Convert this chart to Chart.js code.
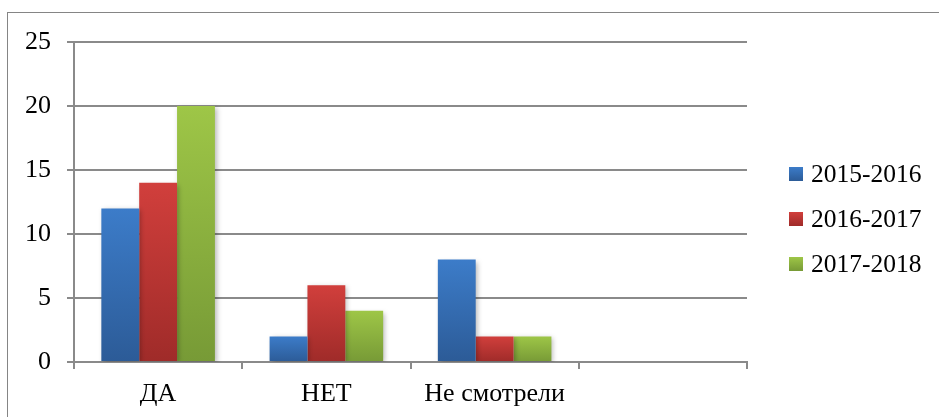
<!DOCTYPE html>
<html>
<head>
<meta charset="utf-8">
<script src="https://cdn.jsdelivr.net/npm/chart.js@4/dist/chart.umd.min.js"></script>
<style>
  html, body { margin: 0; padding: 0; background: #fff; }
  #caja { width: 939px; height: 417px; }
</style>
</head>
<body>
<div id="caja"><canvas id="grafico" width="939" height="417"></canvas></div>
<script>
// categorias y valores por año escolar
var categorias = ["ДА", "НЕТ", "Не смотрели", ""];
var series = ["2015-2016", "2016-2017", "2017-2018"];
var datos_1516 = [12, 2, 8, null];
var datos_1617 = [14, 6, 2, null];
var datos_1718 = [20, 4, 2, null];
var y_ticks = [0, 5, 10, 15, 20, 25];

// colores claro (arriba) / oscuro (abajo) de cada serie
var colores = [
  ["#3c7cc9", "#2c5b97"],
  ["#d13f3c", "#9f2b29"],
  ["#9ec647", "#779a36"]
];

var fuente = '"Liberation Serif", "Times New Roman", serif';
var gris = "#8a8a8a";

// degradado vertical para cada barra
function degradado(claro, oscuro) {
  return function (ctx) {
    var chart = ctx.chart;
    if (ctx.type !== "data" || !chart.chartArea) return oscuro;
    var y = chart.scales.y;
    var arriba = y.getPixelForValue(ctx.raw || 0);
    var base = y.getPixelForValue(0);
    if (base - arriba < 1) return oscuro;
    var g = chart.ctx.createLinearGradient(0, arriba, 0, base);
    g.addColorStop(0, claro);
    g.addColorStop(1, oscuro);
    return g;
  };
}

// marco gris alrededor del grafico
var marco = {
  id: "marco",
  beforeDraw: function (chart) {
    var c = chart.ctx;
    c.save();
    c.strokeStyle = "#858585";
    c.lineWidth = 1;
    c.strokeRect(7.5, 12.5, 1200, 1200);
    c.restore();
  }
};

// sombra suave debajo de las barras
var sombra = {
  id: "sombra",
  beforeDatasetsDraw: function (chart) {
    var c = chart.ctx;
    c.save();
    c.shadowColor = "rgba(0,0,0,0.28)";
    c.shadowBlur = 5;
    c.shadowOffsetX = 2;
    c.shadowOffsetY = 2;
  },
  afterDatasetsDraw: function (chart) {
    chart.ctx.restore();
  }
};

// leyenda a la derecha
var leyenda = {
  id: "leyenda",
  afterDraw: function (chart) {
    var c = chart.ctx;
    var area = chart.chartArea;
    var x = area.right + 42;
    var medio = (area.top + area.bottom) / 2 + 17;
    c.save();
    c.font = "25.5px " + fuente;
    c.textBaseline = "middle";
    c.textAlign = "left";
    chart.data.datasets.forEach(function (ds, i) {
      var cy = medio + (i - 1) * 45;
      var g = c.createLinearGradient(0, cy - 7, 0, cy + 7);
      g.addColorStop(0, colores[i][0]);
      g.addColorStop(1, colores[i][1]);
      c.fillStyle = g;
      c.fillRect(x, cy - 7, 14, 14);
      c.fillStyle = "#000";
      c.fillText(ds.label, x + 22, cy + 1);
    });
    c.restore();
  }
};

var data = {
  labels: categorias,
  datasets: [
    { label: series[0], data: datos_1516, backgroundColor: degradado(colores[0][0], colores[0][1]) },
    { label: series[1], data: datos_1617, backgroundColor: degradado(colores[1][0], colores[1][1]) },
    { label: series[2], data: datos_1718, backgroundColor: degradado(colores[2][0], colores[2][1]) }
  ]
};

var options = {
  responsive: false,
  animation: false,
  layout: { padding: { left: 0, top: 42, right: 192, bottom: 0 } },
  datasets: { bar: { categoryPercentage: 0.675, barPercentage: 1, borderWidth: 0 } },
  plugins: {
    legend: { display: false },
    tooltip: { enabled: false }
  },
  scales: {
    x: {
      grid: { display: true, drawOnChartArea: false, offset: true, tickLength: 7, color: gris, lineWidth: 2 },
      border: { color: gris, width: 2 },
      ticks: { color: "#000", font: { family: fuente, size: 26 }, padding: 10, maxRotation: 0 },
      afterFit: function (s) { s.height = 55; }
    },
    y: {
      min: 0,
      max: 25,
      afterBuildTicks: function (s) { s.ticks = y_ticks.map(function (v) { return { value: v }; }); },
      grid: { color: gris, lineWidth: 2, tickLength: 7 },
      border: { color: gris, width: 2 },
      ticks: { color: "#000", font: { family: fuente, size: 26 }, padding: 16 },
      afterFit: function (s) { s.width = 74; }
    }
  }
};

new Chart(document.getElementById("grafico"), {
  type: "bar",
  data: data,
  options: options,
  plugins: [marco, sombra, leyenda]
});
</script>
</body>
</html>
